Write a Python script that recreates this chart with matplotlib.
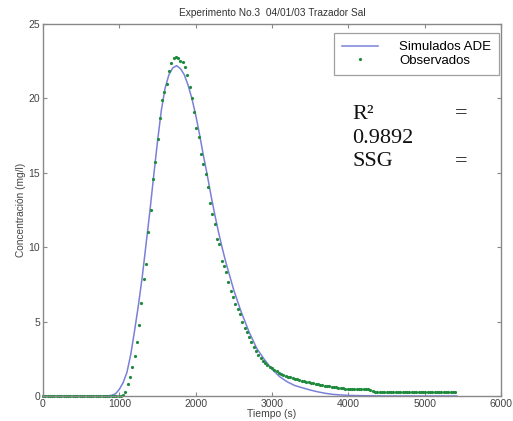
import numpy as np
import matplotlib
matplotlib.use("Agg")
import matplotlib.pyplot as plt

plt.rcParams["font.family"] = ["Liberation Sans", "DejaVu Sans"]

# simulated ADE curve (time s, concentration mg/l)
sim_t = [0, 850, 900, 950, 1000, 1050, 1100, 1150, 1200, 1250, 1300, 1350, 1400,
         1450, 1500, 1550, 1600, 1650, 1700, 1750, 1800, 1850, 1900, 1950, 2000,
         2050, 2100, 2150, 2200, 2250, 2300, 2350, 2400, 2450, 2500, 2600, 2700,
         2800, 2900, 3000, 3100, 3200, 3300, 3400, 3500, 3600, 3700, 3800, 3900,
         4000, 4200, 4500, 5420]
sim_c = [0.0, 0.0, 0.05, 0.15, 0.45, 0.9, 1.6, 2.8, 4.4, 6.1, 8.0, 10.2, 12.4,
         14.8, 17.1, 19.2, 20.7, 21.6, 22.05, 22.2, 22.0, 21.6, 20.9, 20.0, 18.9,
         17.6, 16.2, 14.9, 13.5, 12.2, 11.0, 9.9, 8.9, 8.0, 7.1, 5.6, 4.3,
         3.2, 2.45, 1.8, 1.3, 0.95, 0.7, 0.55, 0.4, 0.28, 0.18, 0.11, 0.07,
         0.04, 0.02, 0.0, 0.0]

# observed samples, one every 30 s starting at t = 0
dt_obs = 30
obs_c = [
    0, 0, 0, 0, 0, 0, 0, 0, 0, 0,
    0, 0, 0, 0, 0, 0, 0, 0, 0, 0,
    0, 0, 0, 0, 0, 0, 0, 0, 0, 0,
    0, 0, 0, 0, 0,
    0.07, 0.29, 0.78, 1.30, 1.97, 2.69, 3.65, 4.77, 6.27, 7.89,
    8.87, 11.0, 12.5, 14.6, 15.75, 17.27, 18.66, 19.9, 20.4, 20.97,
    21.87, 22.4, 22.69, 22.8, 22.69, 22.54, 22.47, 22.1, 21.57, 20.79,
    20.05, 19.06, 17.99, 17.43, 16.24, 15.57, 14.9, 14.05, 12.99, 12.23,
    11.56, 10.55, 10.19, 9.09, 8.74, 8.31, 7.68, 7.08, 6.67, 6.2,
    5.85, 5.5, 4.95, 4.6, 4.3, 3.95, 3.65, 3.3, 3.0, 2.76,
    2.55, 2.35, 2.2, 2.05, 1.95, 1.85, 1.75, 1.65, 1.57, 1.5,
    1.43, 1.37, 1.31, 1.26, 1.21, 1.16, 1.12, 1.08, 1.04, 1.0,
    0.97, 0.94, 0.9, 0.86, 0.83, 0.8, 0.77, 0.73, 0.7, 0.67,
    0.64, 0.62, 0.6, 0.58, 0.56, 0.55, 0.53, 0.5, 0.48, 0.46,
    0.45, 0.45, 0.45, 0.45, 0.44, 0.44, 0.44, 0.44, 0.38, 0.32,
    0.29, 0.29, 0.28, 0.28, 0.28, 0.28, 0.28, 0.27, 0.27, 0.27,
    0.27, 0.27, 0.26, 0.26, 0.26, 0.26, 0.26, 0.26, 0.25, 0.25,
    0.25, 0.25, 0.25, 0.25, 0.25, 0.25, 0.25, 0.24, 0.24, 0.24,
    0.24, 0.24, 0.24, 0.24, 0.24, 0.24,
]
obs_t = np.arange(len(obs_c)) * dt_obs

x_ticks = [0, 1000, 2000, 3000, 4000, 5000, 6000]
y_ticks = [0, 5, 10, 15, 20, 25]

fig = plt.figure(figsize=(5.13, 4.21), dpi=100)
ax = fig.add_axes([43/513, 25/421, 458/513, 372/421])

ax.plot(sim_t, sim_c, color="#7a80d8", lw=1.1, label="Simulados ADE")
ax.plot(obs_t, obs_c, ls="none", marker="o", ms=2.3, mec="none",
        color="#1e8a3c", label="Observados", clip_on=False)

ax.set_xlim(0, 6000)
ax.set_ylim(0, 25)
ax.set_xticks(x_ticks)
ax.set_yticks(y_ticks)
ax.tick_params(direction="in", top=True, right=True, length=3, width=0.8,
               color="#888888", labelsize=7.5, labelcolor="#444444", pad=2)
for s in ax.spines.values():
    s.set_color("#888888")
    s.set_linewidth(1.0)

ax.set_title("Experimento No.3  04/01/03 Trazador Sal", fontsize=7.3,
             color="#333333", pad=6)
ax.set_xlabel("Tiempo (s)", fontsize=7.5, color="#444444", labelpad=0)
ax.set_ylabel("Concentración (mg/l)", fontsize=7.3, color="#444444", labelpad=2)

leg = ax.legend(loc="upper right", bbox_to_anchor=(0.9956, 0.9758),
                fontsize=9.5, fancybox=False, frameon=True,
                borderaxespad=0, handlelength=2.7, borderpad=0.6,
                labelspacing=0.1, handletextpad=1.6)
leg.get_frame().set_edgecolor("#888888")
leg.get_frame().set_linewidth(0.9)

serif = dict(family="Liberation Serif", fontsize=16, color="#111111",
             va="center")
ax.text(4050, 18.95, "R²", **serif)
ax.text(5400, 18.95, "=", **serif)
ax.text(4050, 17.3, "0.9892", **serif)
ax.text(4050, 15.75, "SSG", **serif)
ax.text(5400, 15.75, "=", **serif)

fig.savefig("out.png", dpi=100)
